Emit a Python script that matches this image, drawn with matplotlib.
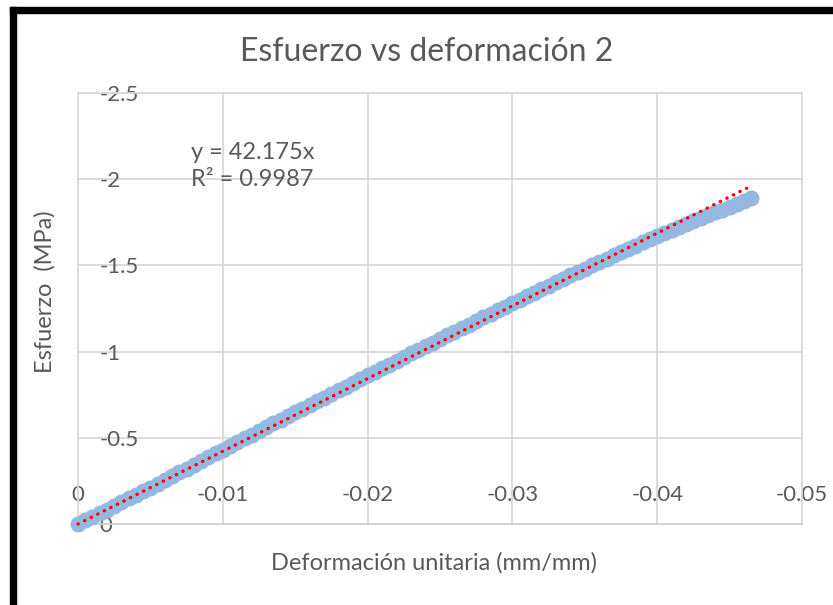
import matplotlib
matplotlib.use("Agg")
import matplotlib.pyplot as plt
from matplotlib.patches import Rectangle

plt.rcParams['font.family'] = ['Lato', 'DejaVu Sans']

TITLE = 'Esfuerzo vs deformación 2'
X_LABEL = 'Deformación unitaria (mm/mm)'
Y_LABEL = 'Esfuerzo  (MPa)'

# strain (mm/mm) and stress (MPa)
strain = [
    0.0000, -0.0005, -0.0010, -0.0015, -0.0020, -0.0025, -0.0030, -0.0035,
    -0.0040, -0.0045, -0.0050, -0.0055, -0.0060, -0.0065, -0.0070, -0.0075,
    -0.0080, -0.0085, -0.0090, -0.0095, -0.0100, -0.0105, -0.0110, -0.0115,
    -0.0120, -0.0125, -0.0130, -0.0135, -0.0140, -0.0145, -0.0150, -0.0155,
    -0.0160, -0.0165, -0.0170, -0.0175, -0.0180, -0.0185, -0.0190, -0.0195,
    -0.0200, -0.0205, -0.0210, -0.0215, -0.0220, -0.0225, -0.0230, -0.0235,
    -0.0240, -0.0245, -0.0250, -0.0255, -0.0260, -0.0265, -0.0270, -0.0275,
    -0.0280, -0.0285, -0.0290, -0.0295, -0.0300, -0.0305, -0.0310, -0.0315,
    -0.0320, -0.0325, -0.0330, -0.0335, -0.0340, -0.0345, -0.0350, -0.0355,
    -0.0360, -0.0365, -0.0370, -0.0375, -0.0380, -0.0385, -0.0390, -0.0395,
    -0.0400, -0.0405, -0.0410, -0.0415, -0.0420, -0.0425, -0.0430, -0.0435,
    -0.0440, -0.0445, -0.0450, -0.0455, -0.0460, -0.0465,
]
stress = [
    0.000, -0.021, -0.042, -0.063, -0.084, -0.105, -0.127, -0.148,
    -0.169, -0.190, -0.211, -0.233, -0.255, -0.277, -0.299, -0.321,
    -0.343, -0.366, -0.388, -0.410, -0.432, -0.454, -0.475, -0.497,
    -0.518, -0.540, -0.561, -0.583, -0.605, -0.627, -0.648, -0.669,
    -0.691, -0.712, -0.733, -0.755, -0.776, -0.797, -0.819, -0.840,
    -0.862, -0.883, -0.904, -0.925, -0.947, -0.968, -0.989, -1.010,
    -1.031, -1.052, -1.073, -1.094, -1.115, -1.136, -1.157, -1.178,
    -1.198, -1.219, -1.240, -1.260, -1.281, -1.301, -1.321, -1.342,
    -1.362, -1.382, -1.402, -1.422, -1.442, -1.462, -1.482, -1.501,
    -1.520, -1.539, -1.558, -1.577, -1.596, -1.614, -1.633, -1.652,
    -1.670, -1.688, -1.705, -1.722, -1.739, -1.756, -1.774, -1.791,
    -1.808, -1.824, -1.840, -1.857, -1.874, -1.893,
]

slope = 42.175
r2 = 0.9987

x_ticks = [0, -0.01, -0.02, -0.03, -0.04, -0.05]
x_ticklabels = ['0', '-0.01', '-0.02', '-0.03', '-0.04', '-0.05']
y_ticks = [0, -0.5, -1, -1.5, -2, -2.5]
y_ticklabels = ['0', '-0.5', '-1', '-1.5', '-2', '-2.5']

TEXT = '#595959'
GRID = '#d9d9d9'

fig = plt.figure(figsize=(8.33, 6.05), dpi=100)
ax = fig.add_axes([78 / 833, 1 - 524 / 605, 724 / 833, 431 / 605])

ax.plot(strain, stress, 'o', color='#95b8e0', markersize=10.5, zorder=3,
        clip_on=False)

# linear trendline through the origin
x_end = min(strain)
ax.plot([0, x_end], [0, slope * x_end], color='#ff0000', lw=2.4,
        linestyle=(0, (0.1, 2.1)), dash_capstyle='round', zorder=4,
        clip_on=False)

ax.set_xlim(0, -0.05)
ax.set_ylim(0, -2.5)
ax.set_xticks(x_ticks)
ax.set_xticklabels(x_ticklabels)
ax.set_yticks(y_ticks)
ax.set_yticklabels(y_ticklabels)

ax.grid(True, color=GRID, lw=1.3)
ax.set_axisbelow(True)
for s in ax.spines.values():
    s.set_color(GRID)
    s.set_linewidth(1.3)
ax.spines['bottom'].set_color('#cfcfcf')

ax.tick_params(length=0, colors=TEXT, labelsize=16)
ax.tick_params(axis='y', pad=-15.5)
ax.tick_params(axis='x', pad=-21)
for lbl in ax.get_yticklabels():
    lbl.set_horizontalalignment('left')
for lbl in ax.get_xticklabels():
    lbl.set_verticalalignment('center')

fig.text(191 / 833, 1 - 166 / 605, 'y = %.3fx\nR² = %.4f' % (slope, r2),
         color=TEXT, fontsize=17, ha='left', va='center', linespacing=1.3)

fig.text(427 / 833, 1 - 52 / 605, TITLE, color=TEXT, fontsize=23,
         ha='center', va='center')
fig.text(434 / 833, 1 - 563 / 605, X_LABEL, color=TEXT, fontsize=17,
         ha='center', va='center')
fig.text(45 / 833, 1 - 292 / 605, Y_LABEL, color=TEXT, fontsize=17,
         ha='center', va='center', rotation=90)

# black frame of the screenshot (left and top edges)
fig.patches.append(Rectangle((10 / 833, 0), 6 / 833, 1 - 7 / 605,
                             transform=fig.transFigure, color='black'))
fig.patches.append(Rectangle((10 / 833, 1 - 13 / 605), 1, 6 / 605,
                             transform=fig.transFigure, color='black'))

fig.savefig('out.png', dpi=100)
